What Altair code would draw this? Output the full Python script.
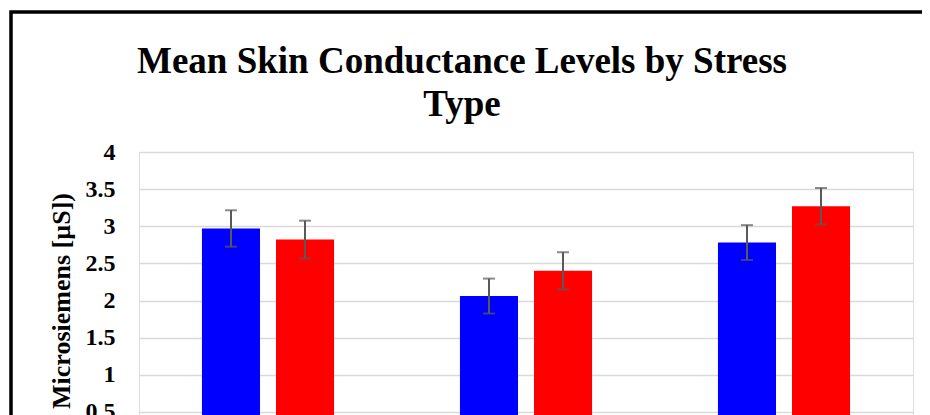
import altair as alt
import pandas as pd

categories = ["Physical", "Cognitive", "Emotional"]
series = ["Group A", "Group B"]
means_a = [2.97, 2.06, 2.78]
means_b = [2.82, 2.40, 3.27]
err_a = [0.245, 0.235, 0.235]
err_b = [0.255, 0.25, 0.245]
y_ticks = [0, 0.5, 1, 1.5, 2, 2.5, 3, 3.5, 4]
colors = ["#0000FF", "#FF0000"]

rows = []
for i, c in enumerate(categories):
    rows.append({"cat": c, "series": series[0], "mean": means_a[i], "err": err_a[i]})
    rows.append({"cat": c, "series": series[1], "mean": means_b[i], "err": err_b[i]})
df = pd.DataFrame(rows)
df["lo"] = df["mean"] - df["err"]
df["hi"] = df["mean"] + df["err"]

W, H = 774, 297
FONT = "Liberation Serif"

x_axis = alt.Axis(labelFont=FONT, labelFontSize=22, labelFontWeight="bold",
                  labelColor="black", ticks=False, domain=False, labelAngle=0)
x_scale = alt.Scale(paddingInner=0.488, paddingOuter=0.244)
x_enc = alt.X("cat:N", sort=categories, title=None, scale=x_scale, axis=x_axis)
xo_enc = alt.XOffset("series:N", sort=series,
                     scale=alt.Scale(paddingInner=0.216, paddingOuter=0))
y_scale = alt.Scale(domain=[0, 4])
y_axis = alt.Axis(values=y_ticks, ticks=False, domain=False, format="~g",
                  labelOverlap=False, labelBound=False,
                  labelFont=FONT, labelFontSize=24, labelFontWeight="bold",
                  labelColor="black", labelPadding=24,
                  titleFont=FONT, titleFontSize=26, titleFontWeight="bold",
                  titleColor="black", titlePadding=11,
                  gridColor="#d9d9d9", gridWidth=1.5)
Y_TITLE = "Microsiemens [µS])"

base = alt.Chart(df)

bars = base.mark_bar().encode(
    x=x_enc,
    xOffset=xo_enc,
    y=alt.Y("mean:Q", scale=y_scale, title=Y_TITLE, axis=y_axis),
    color=alt.Color("series:N", sort=series,
                    scale=alt.Scale(domain=series, range=colors),
                    legend=alt.Legend(orient="bottom", title=None,
                                      labelFont=FONT, labelFontSize=20,
                                      labelFontWeight="bold", labelColor="black")),
)

rules = base.mark_rule(color="#595959", strokeWidth=2).encode(
    x=x_enc,
    xOffset=xo_enc,
    y=alt.Y("lo:Q", scale=y_scale, title=Y_TITLE, axis=y_axis),
    y2="hi:Q",
)
caps_lo = base.mark_tick(color="#595959", thickness=2, size=12).encode(
    x=x_enc,
    xOffset=xo_enc,
    y=alt.Y("lo:Q", scale=y_scale, title=Y_TITLE, axis=y_axis),
)
caps_hi = base.mark_tick(color="#595959", thickness=2, size=12).encode(
    x=x_enc,
    xOffset=xo_enc,
    y=alt.Y("hi:Q", scale=y_scale, title=Y_TITLE, axis=y_axis),
)

frame = alt.Chart(pd.DataFrame({"a": [0]})).mark_rect(
    fill=None, stroke="black", strokeWidth=3.5
).encode(
    x=alt.value(-128), x2=alt.value(W + 60),
    y=alt.value(-140), y2=alt.value(H + 80),
)

chart = alt.layer(bars, rules, caps_lo, caps_hi, frame).properties(
    width=W, height=H,
    title=alt.TitleParams(
        text=["Mean Skin Conductance Levels by Stress", "Type"],
        font=FONT, fontSize=37, fontWeight="bold", color="black",
        lineHeight=43, anchor="middle", frame="group", dx=-64, offset=-114,
    ),
    autosize=alt.AutoSizeParams(type="none"),
    padding={"left": 131, "top": 144, "right": 9, "bottom": 0},
).configure_view(stroke=None).configure(background="white")

chart.save("out.html", embed_options={"renderer": "svg", "actions": False})
